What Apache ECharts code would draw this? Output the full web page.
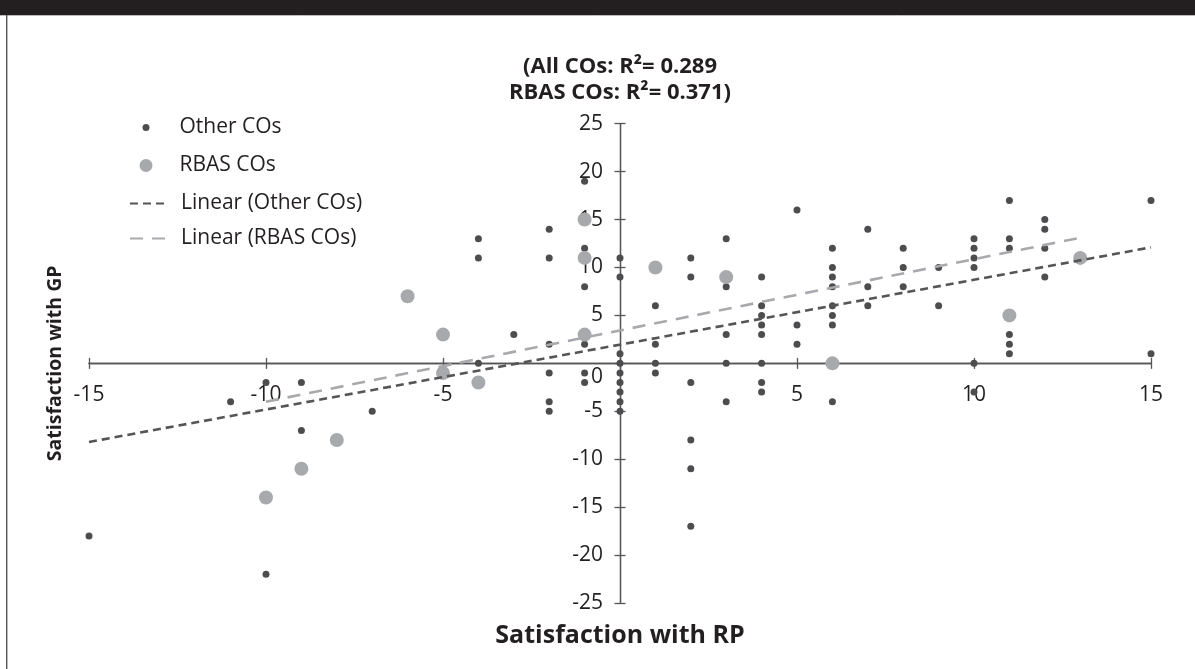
<!DOCTYPE html>
<html lang="en">
<head>
    <meta charset="UTF-8">
    <title>Satisfaction with RP vs GP</title>
    <script src="https://cdn.jsdelivr.net/npm/echarts@6/dist/echarts.min.js"></script>
    <style>
        html, body { margin: 0; padding: 0; background: #fff; }
        #main { width: 1195px; height: 669px; }
    </style>
</head>
<body>
    <div id="main"></div>
<script type="text/javascript">
    // points, [RP, GP]
    var otherCOs = [
        [-15, -18], [-11, -4], [-10, -2], [-10, -22], [-9, -2], [-9, -7], [-7, -5],
        [-4, 13], [-4, 11], [-4, 0], [-3, 3],
        [-2, 14], [-2, 11], [-2, 2], [-2, -1], [-2, -4], [-2, -5],
        [-1, 19], [-1, 12], [-1, 8], [-1, 2], [-1, -1], [-1, -2],
        [0, 11], [0, 9], [0, 1], [0, 0], [0, -1], [0, -2], [0, -3], [0, -4], [0, -5],
        [1, 6], [1, 2], [1, 0], [1, -1],
        [2, 11], [2, 9], [2, -2], [2, -8], [2, -11], [2, -17],
        [3, 13], [3, 8], [3, 3], [3, 0], [3, -4],
        [4, 9], [4, 6], [4, 5], [4, 4], [4, 3], [4, 0], [4, -2], [4, -3],
        [5, 16], [5, 4], [5, 2],
        [6, 12], [6, 10], [6, 9], [6, 8], [6, 6], [6, 5], [6, 4], [6, -4],
        [7, 14], [7, 8], [7, 6],
        [8, 12], [8, 10], [8, 8],
        [9, 10], [9, 6],
        [10, 13], [10, 12], [10, 11], [10, 10], [10, 0], [10, -3],
        [11, 17], [11, 13], [11, 12], [11, 3], [11, 2], [11, 1],
        [12, 15], [12, 14], [12, 12], [12, 9],
        [15, 17], [15, 1]
    ];
    var rbasCOs = [
        [-10, -14], [-9, -11], [-8, -8], [-6, 7], [-5, 3], [-5, -1], [-4, -2],
        [-1, 15], [-1, 11], [-1, 3], [1, 10], [3, 9], [6, 0], [11, 5], [13, 11]
    ];
    // trend line end points
    var otherFit = [[-15, -8.2], [15, 12.1]];
    var rbasFit = [[-10, -4.0], [13, 13.1]];

    var seriesNames = ['Other COs', 'RBAS COs', 'Linear (Other COs)', 'Linear (RBAS COs)'];
    var titleText = '(All COs: R²= 0.289\nRBAS COs: R²= 0.371)';

    var ink = '#231f20';
    var dark = '#4d4d4f';
    var light = '#a7a9ac';
    var font = 'Open Sans';

    var chart = echarts.init(document.getElementById('main'));

    function legendAt(name, left, top, h, icon) {
        var item = { name: name };
        if (icon) item.icon = icon;
        return {
            data: [item], left: left, top: top, padding: 0,
            itemWidth: 35, itemHeight: h, selectedMode: false,
            itemStyle: icon ? {} : { opacity: 0 },
            textStyle: { fontFamily: font, fontSize: 21, color: ink, padding: [0, 0, 0, 11] }
        };
    }

    // the lines sit on zero, the labels stay on the grid edge in v6,
    // so they are pulled in with negative margins
    var axisLine = { onZero: true, onZeroAxisIndex: 0, lineStyle: { color: '#555', width: 1.3 } };
    var tick = { length: 5.5, lineStyle: { color: '#555', width: 1.3 } };

    var option = {
        animation: false,
        title: {
            text: titleText, left: 620, top: 54, padding: 0, textAlign: 'center',
            textStyle: { fontFamily: font, fontSize: 22, fontWeight: 'bold', color: ink, lineHeight: 26 }
        },
        legend: [
            legendAt(seriesNames[0], 142.5, 117, 7, 'circle'),
            legendAt(seriesNames[1], 139.5, 155, 13, 'circle'),
            legendAt(seriesNames[2], 129, 193, 14),
            legendAt(seriesNames[3], 129, 228, 14)
        ],
        grid: { left: 89, right: 44, top: 123.7, bottom: 66, outerBoundsMode: 'none', containLabel: false },
        xAxis: [{
            type: 'value', min: -15, max: 15, interval: 5,
            axisLine: axisLine, axisTick: tick,
            splitLine: { show: false },
            axisLabel: {
                margin: -218, fontFamily: font, fontSize: 21, color: ink,
                formatter: function (v) { return v === 0 ? '' : v; }
            },
            name: 'Satisfaction with RP', nameLocation: 'middle', nameGap: 20, nameMoveOverlap: false,
            nameTextStyle: { fontFamily: font, fontSize: 25, fontWeight: 'bold', color: ink }
        }, {
            type: 'value', min: -15, max: 15, interval: 5, position: 'bottom',
            axisLine: axisLine,
            axisTick: { inside: true, length: 5.5, lineStyle: { color: '#555', width: 1.3 } },
            splitLine: { show: false }, axisLabel: { show: false }
        }],
        yAxis: [{
            type: 'value', min: -25, max: 25, interval: 5, position: 'left',
            axisLine: axisLine, axisTick: tick,
            splitLine: { show: false },
            axisLabel: {
                margin: -514, fontFamily: font, fontSize: 21, color: ink, lineHeight: 27,
                formatter: function (v) { return v === 0 ? '\n0' : v; }
            },
            name: 'Satisfaction with GP', nameLocation: 'middle', nameGap: 24, nameMoveOverlap: false,
            nameTextStyle: { fontFamily: font, fontSize: 19.5, fontWeight: 'bold', color: ink }
        }, {
            type: 'value', min: -25, max: 25, interval: 5, position: 'right',
            axisLine: axisLine, axisTick: tick,
            splitLine: { show: false }, axisLabel: { show: false }
        }],
        series: [{
            name: seriesNames[0], type: 'scatter', data: otherCOs,
            symbolSize: 7, itemStyle: { color: dark, opacity: 1 }
        }, {
            name: seriesNames[1], type: 'scatter', data: rbasCOs,
            symbolSize: 14, itemStyle: { color: light, opacity: 1 }
        }, {
            name: seriesNames[2], type: 'line', data: otherFit, symbol: 'none', z: 5,
            itemStyle: { color: '#555' },
            lineStyle: { color: '#555', width: 2.6, type: [8, 5] }
        }, {
            name: seriesNames[3], type: 'line', data: rbasFit, symbol: 'none', z: 4,
            itemStyle: { color: light },
            lineStyle: { color: light, width: 2.6, type: [13, 9] }
        }],
        graphic: [{
            type: 'rect', shape: { x: 0, y: 0, width: 1195, height: 15 },
            style: { fill: ink }, silent: true
        }, {
            type: 'line', shape: { x1: 0, y1: 15.5, x2: 1195, y2: 15.5 },
            style: { stroke: '#bbb', lineWidth: 1 }, silent: true
        }, {
            type: 'line', shape: { x1: 6.7, y1: 15, x2: 6.7, y2: 669 },
            style: { stroke: '#555', lineWidth: 1.4 }, silent: true
        }]
    };

    chart.setOption(option);
</script>
</body>
</html>
